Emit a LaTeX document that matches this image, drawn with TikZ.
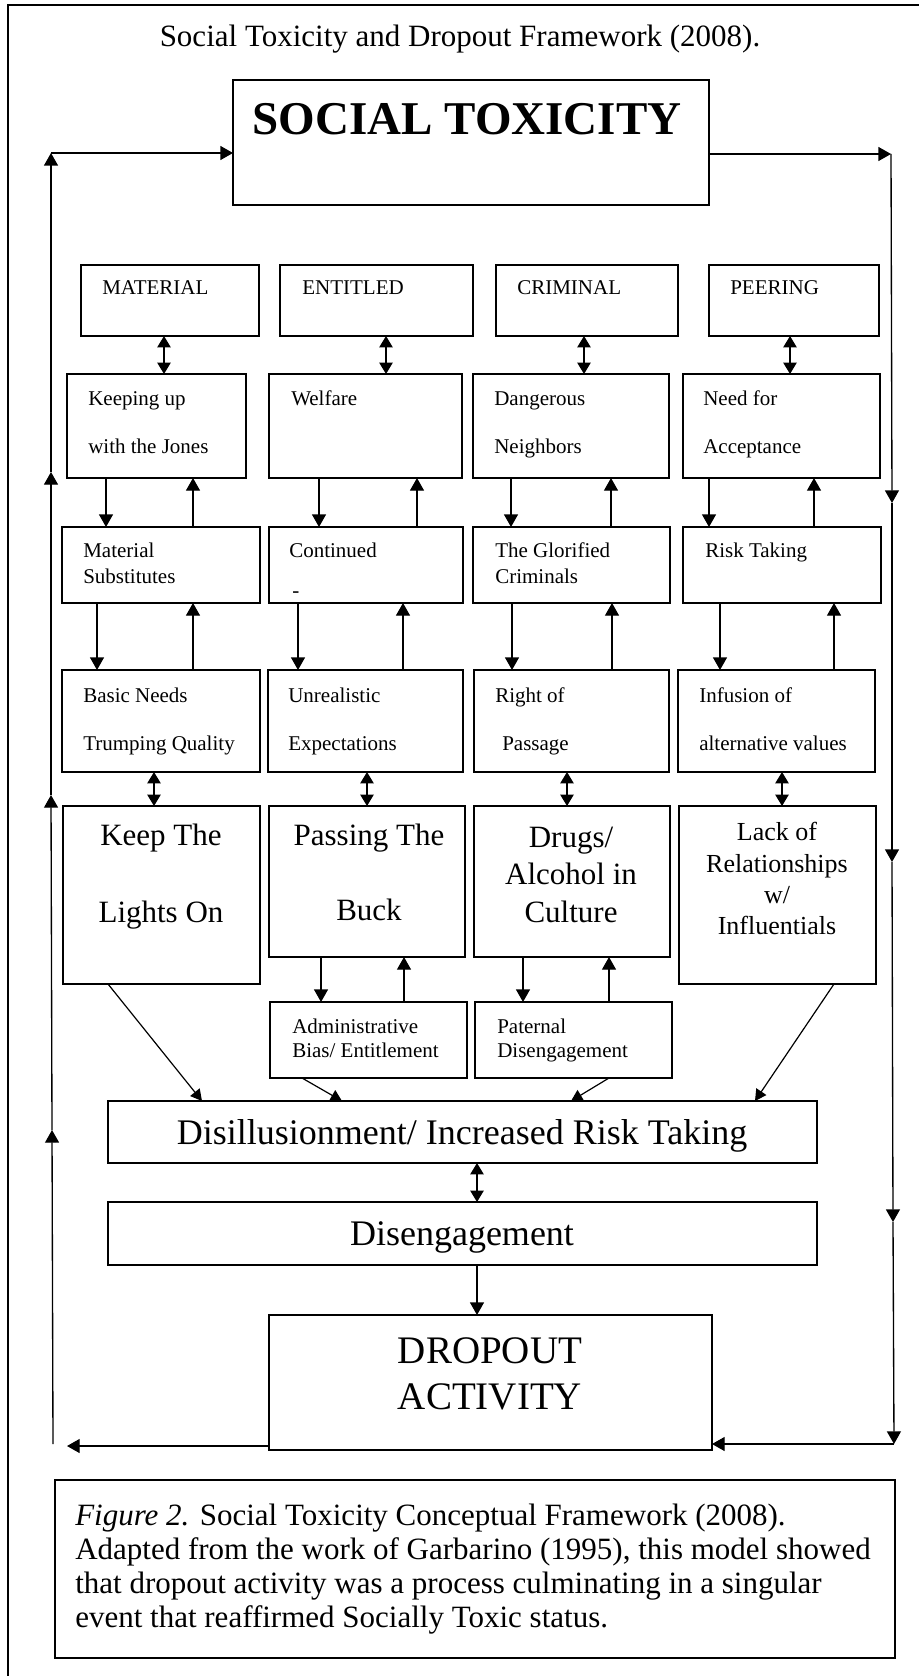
\documentclass[tikz,border=0pt]{standalone}
\usepackage{fontspec}
\setmainfont{Liberation Serif}
\usetikzlibrary{arrows.meta,calc}

% sizes are given in pixels of a 918 x 1676 sheet (1px = 0.75pt)
\newcommand{\mkbox}[5]{%
  \node[bx, minimum width={(#4-#2)*0.75pt}, minimum height={(#5-#3)*0.75pt}]
    (#1) at ({(#2+#4)/2},{(#3+#5)/2}) {};}
\newcommand{\linkdown}[3]{\path (#3,0) coordinate (tmpx);
  \draw[arr] (#1.south -| tmpx) -- (#2.north -| tmpx);}
\newcommand{\linkup}[3]{\path (#3,0) coordinate (tmpx);
  \draw[arr] (#2.north -| tmpx) -- (#1.south -| tmpx);}
\newcommand{\linkboth}[3]{\path (#3,0) coordinate (tmpx);
  \draw[darr] (#1.south -| tmpx) -- (#2.north -| tmpx);}

\tikzset{
  bx/.style={draw, line width=1.1pt, inner sep=0pt, outer sep=0pt},
  arr/.style={line width=1pt, -{Triangle[length=9.5pt,width=10.5pt]}},
  sarr/.style={line width=0.9pt, -{Triangle[length=8.5pt,width=9pt]}},
  darr/.style={line width=1pt, {Triangle[length=8.5pt,width=10pt]}-{Triangle[length=8.5pt,width=10pt]}},
  small/.style={anchor=base west, inner sep=0pt, font=\fontsize{15.75}{18}\selectfont},
  big/.style={anchor=base, inner sep=0pt, font=\fontsize{23.25}{26}\selectfont},
  mid/.style={anchor=base, inner sep=0pt, font=\fontsize{19.5}{22}\selectfont},
  wide/.style={anchor=base, inner sep=0pt, font=\fontsize{27}{30}\selectfont},
  capt/.style={anchor=base west, inner sep=0pt, font=\fontsize{23.25}{26}\selectfont},
}

\begin{document}
\begin{tikzpicture}[x=0.75pt,y=-0.75pt]
\useasboundingbox (0,0) rectangle (918,1676);
\fill[white] (0,0) rectangle (918,1676);

% outer frame
\draw[line width=1.1pt] (8,1690) -- (8,5) -- (930,5);

% title
\node[anchor=base, inner sep=0pt, font=\fontsize{23.25}{26}\selectfont] (title) at (460,47)
  {Social Toxicity and Dropout Framework (2008).};

% top box
\mkbox{st}{233}{80}{709}{205}
\node[anchor=base, inner sep=0pt, font=\fontsize{35.25}{40}\selectfont\bfseries] (stt) at (467,135)
  {SOCIAL TOXICITY};

% category row
\mkbox{m1}{81}{265}{259}{336}
\mkbox{e1}{280}{265}{473}{336}
\mkbox{c1}{496}{265}{678}{336}
\mkbox{p1}{709}{265}{879}{336}
\node[small] (m1t) at (102,295) {MATERIAL};
\node[small] (e1t) at (302,295) {ENTITLED};
\node[small] (c1t) at (517,295) {CRIMINAL};
\node[small] (p1t) at (730,295) {PEERING};

% second row
\mkbox{m2}{67}{374}{246}{478}
\mkbox{e2}{269}{374}{462}{478}
\mkbox{c2}{473}{374}{669}{478}
\mkbox{p2}{683}{374}{880}{478}
\node[small] (m2a) at (88,405) {Keeping up};
\node[small] (m2b) at (88,453) {with the Jones};
\node[small] (e2a) at (291,405) {Welfare};
\node[small] (c2a) at (494,405) {Dangerous};
\node[small] (c2b) at (494,453) {Neighbors};
\node[small] (p2a) at (703,405) {Need for};
\node[small] (p2b) at (703,453) {Acceptance};

% third row
\mkbox{m3}{62}{527}{260}{603}
\mkbox{e3}{269}{527}{463}{603}
\mkbox{c3}{473}{527}{670}{603}
\mkbox{p3}{683}{527}{881}{603}
\node[small] (m3a) at (83,557) {Material};
\node[small] (m3b) at (83,583) {Substitutes};
\node[small] (e3a) at (289,557) {Continued};
\node[small] (e3b) at (292,597) {-};
\node[small] (c3a) at (495,557) {The Glorified};
\node[small] (c3b) at (495,583) {Criminals};
\node[small] (p3a) at (705,557) {Risk Taking};

% fourth row
\mkbox{m4}{62}{670}{260}{772}
\mkbox{e4}{268}{670}{463}{772}
\mkbox{c4}{474}{670}{669}{772}
\mkbox{p4}{678}{670}{875}{772}
\node[small] (m4a) at (83,702) {Basic Needs};
\node[small] (m4b) at (83,750) {Trumping Quality};
\node[small] (e4a) at (288,702) {Unrealistic};
\node[small] (e4b) at (288,750) {Expectations};
\node[small] (c4a) at (495,702) {Right of};
\node[small] (c4b) at (502,750) {Passage};
\node[small] (p4a) at (699,702) {Infusion of};
\node[small] (p4b) at (699,750) {alternative values};

% fifth row
\mkbox{m5}{63}{806}{260}{984}
\mkbox{e5}{269}{806}{465}{957}
\mkbox{c5}{474}{806}{670}{957}
\mkbox{p5}{679}{806}{876}{984}
\node[big] (m5a) at (161,845) {Keep The};
\node[big] (m5b) at (161,922) {Lights On};
\node[big] (e5a) at (369,845) {Passing The};
\node[big] (e5b) at (369,920) {Buck};
\node[big] (c5a) at (571,847) {Drugs/};
\node[big] (c5b) at (571,884) {Alcohol in};
\node[big] (c5c) at (571,922) {Culture};
\node[mid] (p5a) at (777,840) {Lack of};
\node[mid] (p5b) at (777,872) {Relationships};
\node[mid] (p5c) at (777,903) {w/};
\node[mid] (p5d) at (777,934) {Influentials};

% sixth row
\mkbox{e6}{270}{1002}{467}{1078}
\mkbox{c6}{475}{1002}{672}{1078}
\node[small] (e6a) at (292,1033) {Administrative};
\node[small] (e6b) at (292,1057) {Bias/ Entitlement};
\node[small] (c6a) at (497,1033) {Paternal};
\node[small] (c6b) at (497,1057) {Disengagement};

% lower chain
\mkbox{dis}{108}{1101}{817}{1163}
\node[wide] (dist) at (462,1144) {Disillusionment/ Increased Risk Taking};
\mkbox{deg}{108}{1202}{817}{1265}
\node[wide] (degt) at (462,1245) {Disengagement};
\mkbox{drop}{269}{1315}{712}{1450}
\node[anchor=base, inner sep=0pt, font=\fontsize{29.25}{32}\selectfont] (dropa) at (490,1363) {DROPOUT};
\node[anchor=base, inner sep=0pt, font=\fontsize{29.25}{32}\selectfont] (dropb) at (490,1409) {ACTIVITY};

% caption
\mkbox{cap}{55}{1480}{895}{1658}
\node[capt] (cap1) at (75,1525) {\textit{Figure 2.} Social Toxicity Conceptual Framework (2008).};
\node[capt] (cap2) at (75,1559) {Adapted from the work of Garbarino (1995), this model showed};
\node[capt] (cap3) at (75,1593) {that dropout activity was a process culminating in a singular};
\node[capt] (cap4) at (75,1627) {event that reaffirmed Socially Toxic status.};

% links between the rows
\linkboth{m1}{m2}{164}
\linkboth{e1}{e2}{386}
\linkboth{c1}{c2}{584}
\linkboth{p1}{p2}{790}

\linkdown{m2}{m3}{106} \linkup{m2}{m3}{193}
\linkdown{e2}{e3}{319} \linkup{e2}{e3}{417}
\linkdown{c2}{c3}{511} \linkup{c2}{c3}{611}
\linkdown{p2}{p3}{709} \linkup{p2}{p3}{814}

\linkdown{m3}{m4}{97}  \linkup{m3}{m4}{193}
\linkdown{e3}{e4}{298} \linkup{e3}{e4}{403}
\linkdown{c3}{c4}{512} \linkup{c3}{c4}{612}
\linkdown{p3}{p4}{720} \linkup{p3}{p4}{834}

\linkboth{m4}{m5}{154}
\linkboth{e4}{e5}{367}
\linkboth{c4}{c5}{567}
\linkboth{p4}{p5}{782}

\linkdown{e5}{e6}{321} \linkup{e5}{e6}{404}
\linkdown{c5}{c6}{523} \linkup{c5}{c6}{609}

% converging arrows
\draw[sarr] ([xshift=45*0.75pt]m5.south west) -- ([xshift=94*0.75pt]dis.north west);
\draw[sarr] ([xshift=32*0.75pt]e6.south west) -- ([xshift=234*0.75pt]dis.north west);
\draw[sarr] ([xshift=134*0.75pt]c6.south west) -- ([xshift=463*0.75pt]dis.north west);
\draw[sarr] ([xshift=155*0.75pt]p5.south west) -- ([xshift=647*0.75pt]dis.north west);

\linkboth{dis}{deg}{477}
\linkdown{deg}{drop}{477}

% feedback loop
\coordinate (rtop) at (891,154);
\coordinate (r1) at (892,503);
\coordinate (r2) at (892,862);
\coordinate (r3) at (893,1222);
\coordinate (rbot) at (894,1444);
\coordinate (lbot) at (53,1444);
\coordinate (lend) at (67,1446);
\coordinate (l1) at (52,1130);
\coordinate (l2) at (51,795);
\coordinate (l3) at (51,472);
\coordinate (ltop) at (51,153);

\draw[arr] (st.east |- rtop) -- (rtop);
\draw[arr] (rtop) -- (r1);
\draw[arr] (r1) -- (r2);
\draw[arr] (r2) -- (r3);
\draw[arr] (r3) -- (rbot);
\draw[arr] (rbot) -- (rbot -| drop.east);
\draw[arr] (drop.west |- lend) -- (lend);
\draw[arr] (lbot) -- (l1);
\draw[arr] (l1) -- (l2);
\draw[arr] (l2) -- (l3);
\draw[arr] (l3) -- (ltop);
\draw[arr] (ltop) -- (st.west |- ltop);
\end{tikzpicture}
\end{document}
